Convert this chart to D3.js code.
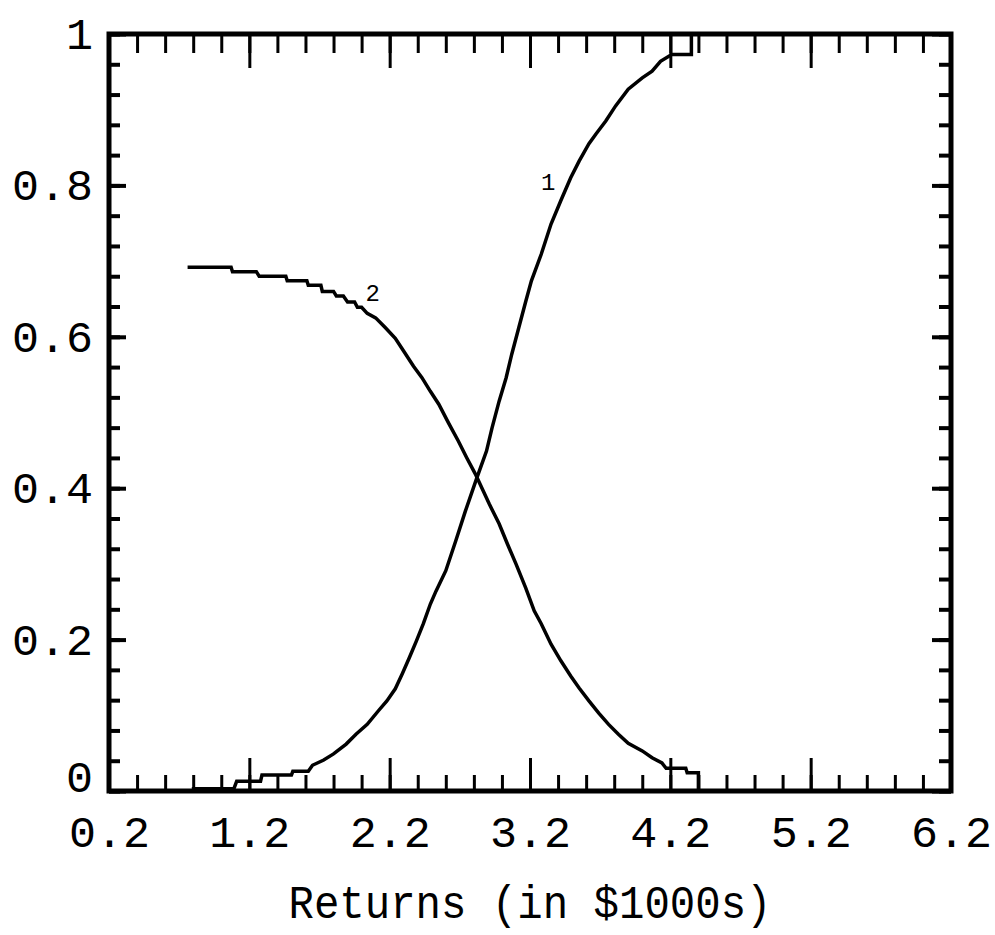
<!DOCTYPE html>
<html>
<head>
<meta charset="utf-8">
<script src="https://cdn.jsdelivr.net/npm/d3@7"></script>
<style>
  body { margin: 0; background: #fff; }
  svg { display: block; }
</style>
</head>
<body>
<div id="chart"></div>
<script>

// curve 1 (rising) and curve 2 (falling)
var curve1X = [0.79, 1.09, 1.11, 1.28, 1.29, 1.50, 1.51, 1.62, 1.65, 1.73, 1.80, 1.89, 1.96, 2.04, 2.12, 2.18, 2.24, 2.29,
	2.34, 2.39, 2.44, 2.49, 2.53, 2.60, 2.67, 2.74, 2.82, 2.89, 2.93, 2.98, 3.03, 3.07, 3.12, 3.17, 3.21, 3.28, 3.35, 3.42,
	3.49, 3.55, 3.62, 3.67, 3.74, 3.81, 3.90, 4.00, 4.07, 4.13, 4.21, 4.35, 4.35];
var curve1Y = [0.003, 0.003, 0.013, 0.013, 0.021, 0.021, 0.026, 0.026, 0.034, 0.041, 0.049, 0.062, 0.075, 0.088, 0.106, 0.119, 0.135, 0.155,
	0.176, 0.198, 0.221, 0.247, 0.264, 0.291, 0.330, 0.370, 0.413, 0.449, 0.480, 0.515, 0.546, 0.577, 0.612, 0.647, 0.674, 0.709, 0.749, 0.780,
	0.810, 0.832, 0.855, 0.868, 0.885, 0.905, 0.927, 0.942, 0.951, 0.964, 0.973, 0.973, 1.0];

var curve2X = [0.76, 1.07, 1.08, 1.25, 1.27, 1.46, 1.47, 1.61, 1.62, 1.71, 1.72, 1.80, 1.82, 1.87, 1.90, 1.95, 1.97, 2.00, 2.04, 2.10,
	2.17, 2.24, 2.29, 2.37, 2.43, 2.49, 2.55, 2.62, 2.69, 2.75, 2.81, 2.91, 2.98, 3.04, 3.10, 3.17, 3.23, 3.28, 3.35, 3.42,
	3.49, 3.55, 3.62, 3.69, 3.76, 3.83, 3.90, 4.00, 4.07, 4.14, 4.17, 4.31, 4.32, 4.40, 4.40];
var curve2Y = [0.692, 0.692, 0.686, 0.686, 0.680, 0.680, 0.674, 0.674, 0.668, 0.668, 0.660, 0.660, 0.654, 0.654, 0.646, 0.646, 0.639, 0.639, 0.631, 0.625,
	0.612, 0.598, 0.584, 0.561, 0.546, 0.528, 0.511, 0.486, 0.462, 0.440, 0.419, 0.379, 0.353, 0.326, 0.300, 0.268, 0.238, 0.221, 0.194, 0.172,
	0.152, 0.136, 0.119, 0.103, 0.088, 0.075, 0.063, 0.053, 0.044, 0.037, 0.030, 0.030, 0.024, 0.024, 0.0];

var curveNames = ["1", "2"];
var curveLabelX = [3.33, 2.08];
var curveLabelY = [0.805, 0.658];

var xTicks = [0.2, 1.2, 2.2, 3.2, 4.2, 5.2, 6.2];
var yTicks = [0, 0.2, 0.4, 0.6, 0.8, 1];
var xTitle = "Returns (in $1000s)";

var width = 995;
var height = 935;
var mono = "'Liberation Mono', 'DejaVu Sans Mono', monospace";

var svg = d3.select("#chart").append("svg")
	.attr("width", width)
	.attr("height", height);

var x = d3.scaleLinear().domain([0.2, 6.2]).range([109, 951]);
var y = d3.scaleLinear().domain([0, 1]).range([791, 34]);

var xMinor = d3.range(0.2, 6.21, 0.2);
var yMinor = d3.range(0, 1.001, 0.04);

function styleAxis(g, w) {
	g.select(".domain").remove();
	g.selectAll(".tick line").attr("stroke", "#000").attr("stroke-width", w);
}

// bottom
svg.append("g").attr("transform", "translate(0," + y(0) + ")")
	.call(d3.axisBottom(x).tickValues(xMinor).tickSize(-16).tickFormat(""))
	.call(styleAxis, 3);
var xAxis = svg.append("g").attr("transform", "translate(0," + y(0) + ")")
	.call(d3.axisBottom(x).tickValues(xTicks).tickSize(-33).tickPadding(24)
		.tickFormat(function(d) { return d.toFixed(1); }))
	.call(styleAxis, 3);
xAxis.selectAll("text").attr("font-family", mono).attr("font-size", 45).attr("fill", "#000");

// top
svg.append("g").attr("transform", "translate(0," + y(1) + ")")
	.call(d3.axisTop(x).tickValues(xMinor).tickSize(-19).tickFormat(""))
	.call(styleAxis, 3);
svg.append("g").attr("transform", "translate(0," + y(1) + ")")
	.call(d3.axisTop(x).tickValues(xTicks).tickSize(-34).tickFormat(""))
	.call(styleAxis, 3);

// left
svg.append("g").attr("transform", "translate(" + x(0.2) + ",0)")
	.call(d3.axisLeft(y).tickValues(yMinor).tickSize(-11).tickFormat(""))
	.call(styleAxis, 4);
var yAxis = svg.append("g").attr("transform", "translate(" + x(0.2) + ",0)")
	.call(d3.axisLeft(y).tickValues(yTicks).tickSize(-17).tickPadding(16)
		.tickFormat(function(d) { return String(d); }))
	.call(styleAxis, 4);
yAxis.selectAll("text").attr("font-family", mono).attr("font-size", 45).attr("fill", "#000");
// the bottom "0" sits a little above its tick, clear of "0.2"
yAxis.selectAll(".tick").filter(function(d) { return d === 0; })
	.select("text").attr("dy", "0.02em");

// right
svg.append("g").attr("transform", "translate(" + x(6.2) + ",0)")
	.call(d3.axisRight(y).tickValues(yMinor).tickSize(-12).tickFormat(""))
	.call(styleAxis, 4);
svg.append("g").attr("transform", "translate(" + x(6.2) + ",0)")
	.call(d3.axisRight(y).tickValues(yTicks).tickSize(-19).tickFormat(""))
	.call(styleAxis, 4);

// frame
svg.append("rect")
	.attr("x", x(0.2))
	.attr("y", y(1))
	.attr("width", x(6.2) - x(0.2))
	.attr("height", y(0) - y(1))
	.attr("fill", "none")
	.attr("stroke", "#000")
	.attr("stroke-width", 5);

var line = d3.line()
	.x(function(d) { return x(d[0]); })
	.y(function(d) { return y(d[1]); });

var curves = [d3.zip(curve1X, curve1Y), d3.zip(curve2X, curve2Y)];

svg.selectAll(".curve")
	.data(curves)
	.enter().append("path")
	.attr("class", "curve")
	.attr("d", line)
	.attr("fill", "none")
	.attr("stroke", "#000")
	.attr("stroke-width", 3.5);

svg.selectAll(".curve-label")
	.data(curveNames)
	.enter().append("text")
	.attr("class", "curve-label")
	.attr("x", function(d, i) { return x(curveLabelX[i]); })
	.attr("y", function(d, i) { return y(curveLabelY[i]); })
	.attr("dy", "0.35em")
	.attr("text-anchor", "middle")
	.attr("font-family", mono)
	.attr("font-size", 24)
	.text(function(d) { return d; });

svg.append("text")
	.attr("x", (x(0.2) + x(6.2)) / 2)
	.attr("y", 918)
	.attr("text-anchor", "middle")
	.attr("font-family", mono)
	.attr("font-size", 46)
	.attr("textLength", 483)
	.attr("lengthAdjust", "spacingAndGlyphs")
	.text(xTitle);

</script>
</body>
</html>
